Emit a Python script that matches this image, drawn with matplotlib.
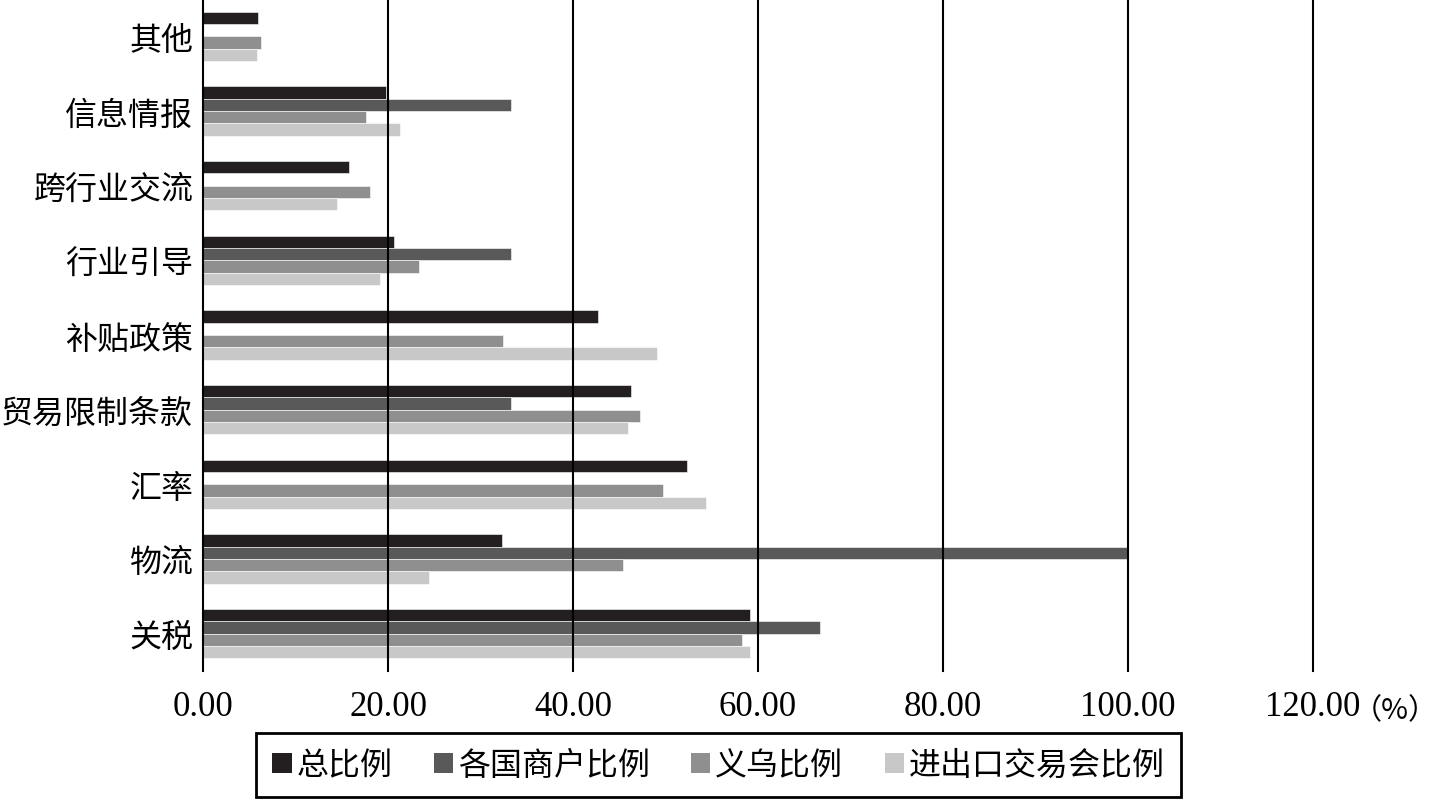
import matplotlib
matplotlib.use("Agg")
import matplotlib.pyplot as plt
import numpy as np
from matplotlib.patches import Patch

plt.rcParams['font.family'] = ['Liberation Serif', 'Noto Sans CJK SC', 'DejaVu Sans']

categories = ['关税', '物流', '汇率', '贸易限制条款', '补贴政策', '行业引导', '跨行业交流', '信息情报', '其他']
series_names = ['总比例', '各国商户比例', '义乌比例', '进出口交易会比例']
total = [59.1, 32.3, 52.3, 46.3, 42.7, 20.7, 15.8, 19.8, 5.9]
merchants = [66.67, 100.0, 0, 33.33, 0, 33.33, 0, 33.33, 0]
yiwu = [58.3, 45.4, 49.7, 47.2, 32.4, 23.3, 18.1, 17.6, 6.3]
fair = [59.1, 24.4, 54.4, 46.0, 49.1, 19.1, 14.5, 21.3, 5.8]
colors = ['#231f20', '#595959', '#8f8f8f', '#c8c8c8']
xticks = [0, 20, 40, 60, 80, 100, 120]
xlabels = ['0.00', '20.00', '40.00', '60.00', '80.00', '100.00', '120.00']

fig = plt.figure(figsize=(14.38, 8.03), dpi=100)
ax = fig.add_axes([0.1412, 0.1632, 0.913 - 0.1412, 0.8368])

y = np.arange(len(categories))
h = 0.165
data = [total, merchants, yiwu, fair]
for i, (vals, c) in enumerate(zip(data, colors)):
    # first series sits on top within each group
    ax.barh(y + (1.5 - i) * h, vals, height=h, color=c, edgecolor='white', linewidth=0.4, zorder=2)

for xv in xticks:
    ax.axvline(xv, color='black', linewidth=1.5, zorder=3, clip_on=False)

ax.set_xlim(0, 120)
ax.set_ylim(-0.5, len(categories) - 0.5)
ax.set_yticks(y)
ax.set_yticklabels(categories, fontsize=23, family=['Noto Sans CJK SC'])
ax.set_xticks(xticks)
ax.set_xticklabels(xlabels, fontsize=25)
ax.tick_params(axis='y', length=0, pad=7)
ax.tick_params(axis='x', length=0, pad=14)
for s in ax.spines.values():
    s.set_visible(False)

# unit right after the last tick label
fig.text(0.9405, 0.119, '（%）', fontsize=21, family=['Noto Sans CJK SC'],
         ha='left', va='center_baseline')

handles = [Patch(facecolor=c, edgecolor='none') for c in colors]
leg = fig.legend(handles, series_names, loc='center', bbox_to_anchor=(0.4997, 0.046),
                 ncol=4, prop={'family': 'Noto Sans CJK SC', 'size': 23},
                 handlelength=0.6, handleheight=0.6, handletextpad=0.15,
                 columnspacing=1.3, borderpad=0.5, fancybox=False, framealpha=1,
                 edgecolor='black')
leg.get_frame().set_linewidth(2)

fig.savefig('out.png', dpi=100)
